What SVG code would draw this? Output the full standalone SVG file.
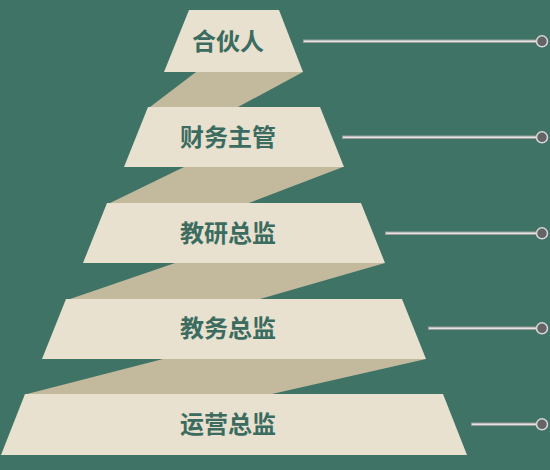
<svg xmlns="http://www.w3.org/2000/svg" width="550" height="470" viewBox="0 0 550 470">
<style>
.tier{fill:#e8e1d0}
.shadow{fill:#c3b99d}
.lbl{font-family:"Noto Sans CJK SC","Noto Sans",sans-serif;font-weight:bold;font-size:24px;fill:#3c6c5f;text-anchor:middle}
.lo{stroke:#9c9c9c;stroke-width:3.6;fill:none}
.li{stroke:#e2e2e2;stroke-width:1.4;fill:none}
.dot{fill:#646464;stroke:#d8d8d8;stroke-width:1.5}
</style>
<rect width="550" height="470" fill="#3e7366"/>
<g id="shadows">
<polygon class="shadow" points="196,72 303,72 238,107 150,107"/>
<polygon class="shadow" points="184,167 343,167 249,203 110,203"/>
<polygon class="shadow" points="175,263 385,263 260,299 70,299"/>
<polygon class="shadow" points="163,359 426,359 272,394 27,394"/>
</g>
<g id="node-partner">
<polygon class="tier" points="189,10 279,10 303,72 164,72"/>
<text class="lbl" x="228" y="50">合伙人</text>
</g>
<g id="node-finance">
<polygon class="tier" points="148,107 320,107 344,167 124,167"/>
<text class="lbl" x="228" y="146">财务主管</text>
</g>
<g id="node-research">
<polygon class="tier" points="107,203 361,203 385,263 83,263"/>
<text class="lbl" x="228" y="242">教研总监</text>
</g>
<g id="node-academic">
<polygon class="tier" points="66,299 402,299 426,359 42,359"/>
<text class="lbl" x="228" y="337">教务总监</text>
</g>
<g id="node-operations">
<polygon class="tier" points="25,394 443,394 467,455 1,455"/>
<text class="lbl" x="228" y="433">运营总监</text>
</g>
<g id="connectors">
<line class="lo" x1="303" y1="41.3" x2="540" y2="41.3"/>
<line class="li" x1="304" y1="41.3" x2="540" y2="41.3"/>
<circle class="dot" cx="542" cy="41.3" r="5.5"/>
<line class="lo" x1="342" y1="137.3" x2="540" y2="137.3"/>
<line class="li" x1="343" y1="137.3" x2="540" y2="137.3"/>
<circle class="dot" cx="542" cy="137.3" r="5.5"/>
<line class="lo" x1="385" y1="233.3" x2="540" y2="233.3"/>
<line class="li" x1="386" y1="233.3" x2="540" y2="233.3"/>
<circle class="dot" cx="542" cy="233.3" r="5.5"/>
<line class="lo" x1="428" y1="328.3" x2="540" y2="328.3"/>
<line class="li" x1="429" y1="328.3" x2="540" y2="328.3"/>
<circle class="dot" cx="542" cy="328.3" r="5.5"/>
<line class="lo" x1="471" y1="424.3" x2="540" y2="424.3"/>
<line class="li" x1="472" y1="424.3" x2="540" y2="424.3"/>
<circle class="dot" cx="542" cy="424.3" r="5.5"/>
</g>
</svg>
